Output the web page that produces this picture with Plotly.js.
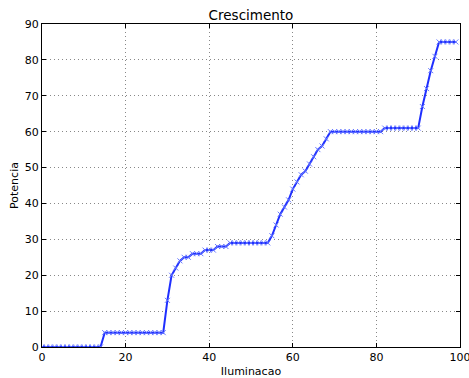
<!DOCTYPE html>
<html>
<head>
<meta charset="utf-8">
<script src="https://cdn.plot.ly/plotly-3.0.1.min.js"></script>
<style>html,body{margin:0;padding:0;background:#fff;}#chart{width:469px;height:378px;}</style>
</head>
<body>
<div id="chart"></div>
<script>
const iluminacao = [0,1,2,3,4,5,6,7,8,9,10,11,12,13,14,15,16,17,18,19,20,21,22,23,24,25,26,27,28,29,30,31,32,33,34,35,36,37,38,39,40,41,42,43,44,45,46,47,48,49,50,51,52,53,54,55,56,57,58,59,60,61,62,63,64,65,66,67,68,69,70,71,72,73,74,75,76,77,78,79,80,81,82,83,84,85,86,87,88,89,90,91,92,93,94,95,96,97,98,99];
const potencia = [0,0,0,0,0,0,0,0,0,0,0,0,0,0,0,
  4,4,4,4,4,4,4,4,4,4,4,4,4,4,4,
  13,20,22,24,25,25,26,26,26,27,27,27,28,28,28,
  29,29,29,29,29,29,29,29,29,29,
  31,34,37,39,41,44,46,48,49,51,53,55,56,58,
  60,60,60,60,60,60,60,60,60,60,60,60,60,
  61,61,61,61,61,61,61,61,61,
  67,72,77,81,
  85,85,85,85,85];
const xTicks = [0,20,40,60,80,100];
const yTicks = [0,10,20,30,40,50,60,70,80,90];
const chartTitle = 'Crescimento';
const xLabel = 'Iluminacao';
const yLabel = 'Potencia';

const font = 'DejaVu Sans, sans-serif';
const axisCommon = {
  showline: true, linecolor: '#000', linewidth: 1, mirror: 'ticks',
  ticks: 'inside', ticklen: 4, tickcolor: '#000', tickwidth: 1,
  showgrid: true, gridcolor: '#888', griddash: '1px,3px', gridwidth: 1,
  zeroline: false, tickfont: {family: font, size: 11, color: '#000'},
  ticklabeloverflow: 'allow'
};
Plotly.newPlot('chart', [{
  x: iluminacao, y: potencia, type: 'scatter', mode: 'lines+markers',
  line: {color: '#1f2fff', width: 2},
  marker: {symbol: 'x-thin', size: 5, line: {color: '#6677ff', width: 1}, color: '#6677ff'}
}], {
  width: 469, height: 378,
  margin: {l: 42, r: 9, t: 24, b: 31},
  paper_bgcolor: '#fff', plot_bgcolor: '#fff',
  showlegend: false,
  title: {text: chartTitle, font: {family: font, size: 13.5, color: '#000'}, x: 0.5, xref: 'paper', xanchor: 'center', y: 1, yref: 'paper', yanchor: 'bottom', pad: {b: 4}},
  xaxis: Object.assign({}, axisCommon, {range: [0, 100], tickvals: xTicks, ticktext: xTicks.map(String),
    title: {text: xLabel, font: {family: font, size: 11, color: '#000'}, standoff: 4}}),
  yaxis: Object.assign({}, axisCommon, {range: [0, 90], tickvals: yTicks, ticktext: yTicks.map(String),
    title: {text: yLabel, font: {family: font, size: 11, color: '#000'}, standoff: 3}})
}, {displayModeBar: false, staticPlot: true});
</script>
</body>
</html>
